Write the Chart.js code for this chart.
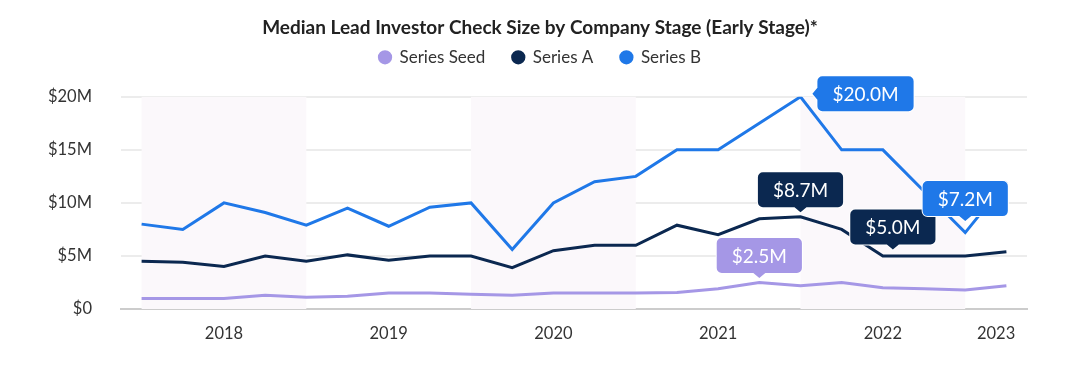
<!DOCTYPE html>
<html>
<head>
<meta charset="utf-8">
<script src="https://cdn.jsdelivr.net/npm/chart.js@4"></script>
<style>
  html, body { margin: 0; padding: 0; background: #fff; }
  #wrap { width: 1080px; height: 372px; }
</style>
</head>
<body>
<div id="wrap"><canvas id="chart" width="1080" height="372"></canvas></div>
<script>
// quarters, Q1 2018 .. Q2 2023
const quarters = [
  "2018 Q1", "2018 Q2", "2018 Q3", "2018 Q4",
  "2019 Q1", "2019 Q2", "2019 Q3", "2019 Q4",
  "2020 Q1", "2020 Q2", "2020 Q3", "2020 Q4",
  "2021 Q1", "2021 Q2", "2021 Q3", "2021 Q4",
  "2022 Q1", "2022 Q2", "2022 Q3", "2022 Q4",
  "2023 Q1", "2023 Q2"
];
const years = ["2018", "2019", "2020", "2021", "2022", "2023"];

// median check size, $M
const seriesSeed = [1.0, 1.0, 1.0, 1.3, 1.1, 1.2, 1.5, 1.5, 1.4, 1.3, 1.5, 1.5, 1.5, 1.55, 1.9, 2.5, 2.2, 2.5, 2.0, 1.9, 1.8, 2.2];
const seriesA = [4.5, 4.4, 4.0, 5.0, 4.5, 5.1, 4.6, 5.0, 5.0, 3.9, 5.5, 6.0, 6.0, 7.9, 7.0, 8.5, 8.7, 7.5, 5.0, 5.0, 5.0, 5.4];
const seriesB = [8.0, 7.5, 10.0, 9.1, 7.9, 9.5, 7.8, 9.6, 10.0, 5.6, 10.0, 12.0, 12.5, 15.0, 15.0, 17.5, 20.0, 15.0, 15.0, 11.1, 7.2, 12.0];

const seriesNames = ["Series Seed", "Series A", "Series B"];
const seriesColors = ["#a597e6", "#0b2850", "#1f78e8"];

// labelled points: dataset, quarter index, where the box sits
const callouts = [
  { ds: 0, idx: 15, side: "top", dx: 0, dy: -27 },
  { ds: 1, idx: 16, side: "top", dx: 0, dy: -27 },
  { ds: 1, idx: 18, side: "top", dx: 10, dy: -29 },
  { ds: 2, idx: 20, side: "top", dx: 0, dy: -34 },
  { ds: 2, idx: 16, side: "left", dx: 65, dy: -3 }
];

const xMin = -0.5;
const xMax = quarters.length - 0.5;

// year tick sits in the middle of the visible part of each year
const yearTicks = years.map((y) => {
  const first = quarters.findIndex(q => q.startsWith(y));
  const a = Math.max(first, xMin);
  const b = Math.min(first + 4, xMax);
  return (a + b) / 2;
});

const toPoints = (arr) => arr.map((v, i) => ({ x: i, y: v }));
const fmt = (v) => "$" + v.toFixed(1) + "M";

// ==============================
// extra room under the legend
// ==============================
const legendGap = {
  id: "legendGap",
  beforeInit(chart) {
    const fit = chart.legend.fit;
    chart.legend.fit = function () {
      fit.bind(chart.legend)();
      this.height += 21;
    };
  }
};

// ==============================
// alternating year bands
// ==============================
const bandPlugin = {
  id: "bands",
  beforeDatasetsDraw(chart) {
    const { ctx, chartArea, scales } = chart;
    ctx.save();
    ctx.fillStyle = "#fbf8fb";
    years.forEach((y, k) => {
      if (k % 2 !== 0) return;
      const first = quarters.findIndex(q => q.startsWith(y));
      const x1 = scales.x.getPixelForValue(Math.max(first, xMin));
      const x2 = scales.x.getPixelForValue(Math.min(first + 4, xMax));
      ctx.fillRect(x1, chartArea.top, x2 - x1, chartArea.bottom - chartArea.top);
    });
    ctx.restore();
  }
};

// ==============================
// value callouts
// ==============================
const calloutPlugin = {
  id: "callouts",
  afterDatasetsDraw(chart) {
    const { ctx } = chart;
    ctx.save();
    ctx.font = "19px Lato";
    ctx.textAlign = "center";
    ctx.textBaseline = "middle";
    callouts.forEach((c) => {
      const pt = chart.getDatasetMeta(c.ds).data[c.idx];
      const v = chart.data.datasets[c.ds].data[c.idx].y;
      const text = fmt(v);
      const w = ctx.measureText(text).width + 30;
      const h = 35;
      const cx = pt.x + c.dx;
      const cy = pt.y + c.dy;
      const x = cx - w / 2, y = cy - h / 2;
      ctx.beginPath();
      ctx.roundRect(x, y, w, h, 5);
      if (c.side === "top") {
        // pointer under the box
        ctx.moveTo(cx - 6, y + h);
        ctx.lineTo(cx, y + h + 5);
        ctx.lineTo(cx + 6, y + h);
      } else {
        ctx.moveTo(x, cy - 6);
        ctx.lineTo(x - 5, cy);
        ctx.lineTo(x, cy + 6);
      }
      ctx.fillStyle = seriesColors[c.ds];
      ctx.strokeStyle = "#fff";
      ctx.lineWidth = 2;
      ctx.stroke();
      ctx.fill();
      ctx.fillStyle = "#fff";
      ctx.fillText(text, cx, cy + 1);
    });
    ctx.restore();
  }
};

const ctx = document.getElementById("chart").getContext("2d");

new Chart(ctx, {
  type: "line",
  data: {
    datasets: [seriesSeed, seriesA, seriesB].map((arr, k) => ({
      label: seriesNames[k],
      data: toPoints(arr),
      borderColor: seriesColors[k],
      backgroundColor: seriesColors[k],
      borderWidth: 3,
      pointRadius: 0,
      tension: 0,
      fill: false
    }))
  },
  options: {
    responsive: false,
    animation: false,
    layout: { padding: 0 },
    plugins: {
      title: {
        display: true,
        text: "Median Lead Investor Check Size by Company Stage (Early Stage)*",
        color: "#222",
        font: { family: "Lato", size: 19, weight: "bold" },
        padding: { top: 16, bottom: -17 }
      },
      legend: {
        labels: {
          usePointStyle: true,
          pointStyle: "circle",
          boxWidth: 12,
          boxHeight: 8,
          padding: 27,
          color: "#333",
          font: { family: "Lato", size: 17 }
        }
      },
      tooltip: { enabled: false }
    },
    scales: {
      x: {
        type: "linear",
        min: xMin,
        max: xMax,
        afterBuildTicks: (scale) => { scale.ticks = yearTicks.map(v => ({ value: v })); },
        afterFit: (scale) => { scale.height = 63; },
        grid: { display: false, drawTicks: false },
        border: { display: true, color: "#cccccc", width: 2 },
        ticks: {
          autoSkip: false,
          maxRotation: 0,
          padding: 15,
          color: "#333",
          font: { family: "Lato", size: 16.5 },
          callback: (v) => years[yearTicks.indexOf(v)]
        }
      },
      y: {
        min: 0,
        max: 20,
        afterFit: (scale) => { scale.width = 121; },
        grid: { color: "#ececec", lineWidth: 2, drawTicks: false },
        border: { display: false },
        ticks: {
          stepSize: 5,
          padding: 29,
          color: "#333",
          font: { family: "Lato", size: 16.5 },
          callback: (v) => v === 0 ? "$0" : "$" + v + "M"
        }
      },
      // empty right margin so title and legend centre on the page
      yRight: {
        position: "right",
        min: 0,
        max: 20,
        afterFit: (scale) => { scale.width = 53; },
        grid: { display: false, drawTicks: false },
        border: { display: false },
        ticks: { display: false }
      }
    }
  },
  plugins: [legendGap, bandPlugin, calloutPlugin]
});
</script>
</body>
</html>
